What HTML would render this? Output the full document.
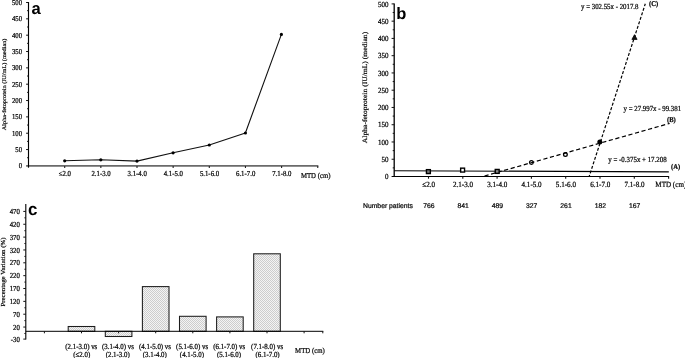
<!DOCTYPE html>
<html lang="en"><head><meta charset="utf-8"><title>Figure</title>
<style>html,body{margin:0;padding:0;background:#fff;}body{width:685px;height:358px;overflow:hidden;}svg{display:block;}text{stroke:#000;stroke-width:0.22px;text-rendering:geometricPrecision;}text.big{stroke:none;}</style>
</head><body>
<svg width="685" height="358" viewBox="0 0 685 358">
<defs><pattern id="dots" width="2" height="2" patternUnits="userSpaceOnUse"><rect width="2" height="2" fill="#f4f4f4"/><rect width="1" height="1" fill="#cdcdcd"/><rect x="1" y="1" width="1" height="1" fill="#cdcdcd"/></pattern></defs>
<rect width="685" height="358" fill="#fff"/>
<g id="panel-a">
<line x1="26.10" y1="165.90" x2="318.35" y2="165.90" stroke="#6a6a6a" stroke-width="1.9" />
<line x1="64.70" y1="165.90" x2="64.70" y2="168.10" stroke="#222" stroke-width="1.1" />
<line x1="100.85" y1="165.90" x2="100.85" y2="168.10" stroke="#222" stroke-width="1.1" />
<line x1="137.00" y1="165.90" x2="137.00" y2="168.10" stroke="#222" stroke-width="1.1" />
<line x1="173.15" y1="165.90" x2="173.15" y2="168.10" stroke="#222" stroke-width="1.1" />
<line x1="209.30" y1="165.90" x2="209.30" y2="168.10" stroke="#222" stroke-width="1.1" />
<line x1="245.45" y1="165.90" x2="245.45" y2="168.10" stroke="#222" stroke-width="1.1" />
<line x1="281.60" y1="165.90" x2="281.60" y2="168.10" stroke="#222" stroke-width="1.1" />
<line x1="317.75" y1="165.90" x2="317.75" y2="168.10" stroke="#222" stroke-width="1.1" />
<line x1="28.50" y1="2.00" x2="28.50" y2="167.70" stroke="#000" stroke-width="1.15" />
<line x1="26.10" y1="149.56" x2="28.50" y2="149.56" stroke="#111" stroke-width="1.0" />
<line x1="26.10" y1="133.22" x2="28.50" y2="133.22" stroke="#111" stroke-width="1.0" />
<line x1="26.10" y1="116.88" x2="28.50" y2="116.88" stroke="#111" stroke-width="1.0" />
<line x1="26.10" y1="100.54" x2="28.50" y2="100.54" stroke="#111" stroke-width="1.0" />
<line x1="26.10" y1="84.20" x2="28.50" y2="84.20" stroke="#111" stroke-width="1.0" />
<line x1="26.10" y1="67.86" x2="28.50" y2="67.86" stroke="#111" stroke-width="1.0" />
<line x1="26.10" y1="51.52" x2="28.50" y2="51.52" stroke="#111" stroke-width="1.0" />
<line x1="26.10" y1="35.18" x2="28.50" y2="35.18" stroke="#111" stroke-width="1.0" />
<line x1="26.10" y1="18.84" x2="28.50" y2="18.84" stroke="#111" stroke-width="1.0" />
<line x1="26.10" y1="2.50" x2="28.50" y2="2.50" stroke="#111" stroke-width="1.0" />
<line x1="27.10" y1="157.73" x2="28.50" y2="157.73" stroke="#111" stroke-width="1.0" />
<line x1="27.10" y1="141.39" x2="28.50" y2="141.39" stroke="#111" stroke-width="1.0" />
<line x1="27.10" y1="125.05" x2="28.50" y2="125.05" stroke="#111" stroke-width="1.0" />
<line x1="27.10" y1="108.71" x2="28.50" y2="108.71" stroke="#111" stroke-width="1.0" />
<line x1="27.10" y1="92.37" x2="28.50" y2="92.37" stroke="#111" stroke-width="1.0" />
<line x1="27.10" y1="76.03" x2="28.50" y2="76.03" stroke="#111" stroke-width="1.0" />
<line x1="27.10" y1="59.69" x2="28.50" y2="59.69" stroke="#111" stroke-width="1.0" />
<line x1="27.10" y1="43.35" x2="28.50" y2="43.35" stroke="#111" stroke-width="1.0" />
<line x1="27.10" y1="27.01" x2="28.50" y2="27.01" stroke="#111" stroke-width="1.0" />
<line x1="27.10" y1="10.67" x2="28.50" y2="10.67" stroke="#111" stroke-width="1.0" />
<text transform="translate(22.00 168.40) scale(1 1.12)" font-size="6.7" text-anchor="end" font-family='"Liberation Serif", serif' font-weight="normal" fill="#111" >0</text>
<text transform="translate(22.00 152.06) scale(1 1.12)" font-size="6.7" text-anchor="end" font-family='"Liberation Serif", serif' font-weight="normal" fill="#111" >50</text>
<text transform="translate(22.00 135.72) scale(1 1.12)" font-size="6.7" text-anchor="end" font-family='"Liberation Serif", serif' font-weight="normal" fill="#111" >100</text>
<text transform="translate(22.00 119.38) scale(1 1.12)" font-size="6.7" text-anchor="end" font-family='"Liberation Serif", serif' font-weight="normal" fill="#111" >150</text>
<text transform="translate(22.00 103.04) scale(1 1.12)" font-size="6.7" text-anchor="end" font-family='"Liberation Serif", serif' font-weight="normal" fill="#111" >200</text>
<text transform="translate(22.00 86.70) scale(1 1.12)" font-size="6.7" text-anchor="end" font-family='"Liberation Serif", serif' font-weight="normal" fill="#111" >250</text>
<text transform="translate(22.00 70.36) scale(1 1.12)" font-size="6.7" text-anchor="end" font-family='"Liberation Serif", serif' font-weight="normal" fill="#111" >300</text>
<text transform="translate(22.00 54.02) scale(1 1.12)" font-size="6.7" text-anchor="end" font-family='"Liberation Serif", serif' font-weight="normal" fill="#111" >350</text>
<text transform="translate(22.00 37.68) scale(1 1.12)" font-size="6.7" text-anchor="end" font-family='"Liberation Serif", serif' font-weight="normal" fill="#111" >400</text>
<text transform="translate(22.00 21.34) scale(1 1.12)" font-size="6.7" text-anchor="end" font-family='"Liberation Serif", serif' font-weight="normal" fill="#111" >450</text>
<text transform="translate(22.00 5.00) scale(1 1.12)" font-size="6.7" text-anchor="end" font-family='"Liberation Serif", serif' font-weight="normal" fill="#111" >500</text>
<text transform="translate(64.90 176.10) scale(1 1.12)" font-size="6.8" text-anchor="middle" font-family='"Liberation Serif", serif' font-weight="normal" fill="#111" >≤2.0</text>
<text transform="translate(101.05 176.10) scale(1 1.12)" font-size="6.8" text-anchor="middle" font-family='"Liberation Serif", serif' font-weight="normal" fill="#111" >2.1-3.0</text>
<text transform="translate(137.20 176.10) scale(1 1.12)" font-size="6.8" text-anchor="middle" font-family='"Liberation Serif", serif' font-weight="normal" fill="#111" >3.1-4.0</text>
<text transform="translate(173.35 176.10) scale(1 1.12)" font-size="6.8" text-anchor="middle" font-family='"Liberation Serif", serif' font-weight="normal" fill="#111" >4.1-5.0</text>
<text transform="translate(209.50 176.10) scale(1 1.12)" font-size="6.8" text-anchor="middle" font-family='"Liberation Serif", serif' font-weight="normal" fill="#111" >5.1-6.0</text>
<text transform="translate(245.65 176.10) scale(1 1.12)" font-size="6.8" text-anchor="middle" font-family='"Liberation Serif", serif' font-weight="normal" fill="#111" >6.1-7.0</text>
<text transform="translate(281.80 176.10) scale(1 1.12)" font-size="6.8" text-anchor="middle" font-family='"Liberation Serif", serif' font-weight="normal" fill="#111" >7.1-8.0</text>
<text transform="translate(315.70 177.80) scale(1 1.12)" font-size="6.8" text-anchor="middle" font-family='"Liberation Serif", serif' font-weight="normal" fill="#111" >MTD (cm)</text>
<text transform="translate(5.50 84.40) rotate(-90) scale(1 0.893)" font-size="6.25" text-anchor="middle" font-family='"Liberation Serif", serif' fill="#111" >Alpha-fetoprotein (IU/mL) (median)</text>
<polyline fill="none" stroke="#111" stroke-width="1.1" stroke-linejoin="round" points="64.7,160.8 100.8,159.8 137.0,161.1 173.1,152.8 209.3,145.0 245.4,133.0 281.4,34.4"/>
<circle cx="64.7" cy="160.8" r="1.6" fill="#000"/>
<circle cx="100.8" cy="159.8" r="1.6" fill="#000"/>
<circle cx="137.0" cy="161.1" r="1.6" fill="#000"/>
<circle cx="173.1" cy="152.8" r="1.6" fill="#000"/>
<circle cx="209.3" cy="145.0" r="1.6" fill="#000"/>
<circle cx="245.4" cy="133.0" r="1.6" fill="#000"/>
<circle cx="281.4" cy="34.4" r="1.6" fill="#000"/>
<text transform="translate(31.40 13.70) scale(1 1.0)" font-size="16.6" text-anchor="start" font-family='"Liberation Sans", sans-serif' font-weight="bold" fill="#000" class="big">a</text>
</g>
<g id="panel-b">
<line x1="391.60" y1="176.50" x2="669.10" y2="176.50" stroke="#000" stroke-width="1.2" />
<line x1="428.50" y1="176.50" x2="428.50" y2="178.70" stroke="#111" stroke-width="1.1" />
<line x1="462.80" y1="176.50" x2="462.80" y2="178.70" stroke="#111" stroke-width="1.1" />
<line x1="497.10" y1="176.50" x2="497.10" y2="178.70" stroke="#111" stroke-width="1.1" />
<line x1="531.40" y1="176.50" x2="531.40" y2="178.70" stroke="#111" stroke-width="1.1" />
<line x1="565.70" y1="176.50" x2="565.70" y2="178.70" stroke="#111" stroke-width="1.1" />
<line x1="600.00" y1="176.50" x2="600.00" y2="178.70" stroke="#111" stroke-width="1.1" />
<line x1="634.30" y1="176.50" x2="634.30" y2="178.70" stroke="#111" stroke-width="1.1" />
<line x1="668.60" y1="176.50" x2="668.60" y2="178.70" stroke="#111" stroke-width="1.1" />
<line x1="394.20" y1="3.40" x2="394.20" y2="177.00" stroke="#000" stroke-width="1.3" />
<line x1="391.60" y1="159.24" x2="394.20" y2="159.24" stroke="#111" stroke-width="1.0" />
<line x1="391.60" y1="141.98" x2="394.20" y2="141.98" stroke="#111" stroke-width="1.0" />
<line x1="391.60" y1="124.72" x2="394.20" y2="124.72" stroke="#111" stroke-width="1.0" />
<line x1="391.60" y1="107.46" x2="394.20" y2="107.46" stroke="#111" stroke-width="1.0" />
<line x1="391.60" y1="90.20" x2="394.20" y2="90.20" stroke="#111" stroke-width="1.0" />
<line x1="391.60" y1="72.94" x2="394.20" y2="72.94" stroke="#111" stroke-width="1.0" />
<line x1="391.60" y1="55.68" x2="394.20" y2="55.68" stroke="#111" stroke-width="1.0" />
<line x1="391.60" y1="38.42" x2="394.20" y2="38.42" stroke="#111" stroke-width="1.0" />
<line x1="391.60" y1="21.16" x2="394.20" y2="21.16" stroke="#111" stroke-width="1.0" />
<line x1="391.60" y1="3.90" x2="394.20" y2="3.90" stroke="#111" stroke-width="1.0" />
<line x1="392.70" y1="167.87" x2="394.20" y2="167.87" stroke="#111" stroke-width="1.0" />
<line x1="392.70" y1="150.61" x2="394.20" y2="150.61" stroke="#111" stroke-width="1.0" />
<line x1="392.70" y1="133.35" x2="394.20" y2="133.35" stroke="#111" stroke-width="1.0" />
<line x1="392.70" y1="116.09" x2="394.20" y2="116.09" stroke="#111" stroke-width="1.0" />
<line x1="392.70" y1="98.83" x2="394.20" y2="98.83" stroke="#111" stroke-width="1.0" />
<line x1="392.70" y1="81.57" x2="394.20" y2="81.57" stroke="#111" stroke-width="1.0" />
<line x1="392.70" y1="64.31" x2="394.20" y2="64.31" stroke="#111" stroke-width="1.0" />
<line x1="392.70" y1="47.05" x2="394.20" y2="47.05" stroke="#111" stroke-width="1.0" />
<line x1="392.70" y1="29.79" x2="394.20" y2="29.79" stroke="#111" stroke-width="1.0" />
<line x1="392.70" y1="12.53" x2="394.20" y2="12.53" stroke="#111" stroke-width="1.0" />
<text transform="translate(388.40 179.10) scale(1 1.12)" font-size="7.0" text-anchor="end" font-family='"Liberation Serif", serif' font-weight="normal" fill="#111" >0</text>
<text transform="translate(388.40 161.84) scale(1 1.12)" font-size="7.0" text-anchor="end" font-family='"Liberation Serif", serif' font-weight="normal" fill="#111" >50</text>
<text transform="translate(388.40 144.58) scale(1 1.12)" font-size="7.0" text-anchor="end" font-family='"Liberation Serif", serif' font-weight="normal" fill="#111" >100</text>
<text transform="translate(388.40 127.32) scale(1 1.12)" font-size="7.0" text-anchor="end" font-family='"Liberation Serif", serif' font-weight="normal" fill="#111" >150</text>
<text transform="translate(388.40 110.06) scale(1 1.12)" font-size="7.0" text-anchor="end" font-family='"Liberation Serif", serif' font-weight="normal" fill="#111" >200</text>
<text transform="translate(388.40 92.80) scale(1 1.12)" font-size="7.0" text-anchor="end" font-family='"Liberation Serif", serif' font-weight="normal" fill="#111" >250</text>
<text transform="translate(388.40 75.54) scale(1 1.12)" font-size="7.0" text-anchor="end" font-family='"Liberation Serif", serif' font-weight="normal" fill="#111" >300</text>
<text transform="translate(388.40 58.28) scale(1 1.12)" font-size="7.0" text-anchor="end" font-family='"Liberation Serif", serif' font-weight="normal" fill="#111" >350</text>
<text transform="translate(388.40 41.02) scale(1 1.12)" font-size="7.0" text-anchor="end" font-family='"Liberation Serif", serif' font-weight="normal" fill="#111" >400</text>
<text transform="translate(388.40 23.76) scale(1 1.12)" font-size="7.0" text-anchor="end" font-family='"Liberation Serif", serif' font-weight="normal" fill="#111" >450</text>
<text transform="translate(388.40 6.50) scale(1 1.12)" font-size="7.0" text-anchor="end" font-family='"Liberation Serif", serif' font-weight="normal" fill="#111" >500</text>
<text transform="translate(428.70 186.80) scale(1 1.12)" font-size="7.1" text-anchor="middle" font-family='"Liberation Serif", serif' font-weight="normal" fill="#111" >≤2.0</text>
<text transform="translate(463.00 186.80) scale(1 1.12)" font-size="7.1" text-anchor="middle" font-family='"Liberation Serif", serif' font-weight="normal" fill="#111" >2.1-3.0</text>
<text transform="translate(497.30 186.80) scale(1 1.12)" font-size="7.1" text-anchor="middle" font-family='"Liberation Serif", serif' font-weight="normal" fill="#111" >3.1-4.0</text>
<text transform="translate(531.60 186.80) scale(1 1.12)" font-size="7.1" text-anchor="middle" font-family='"Liberation Serif", serif' font-weight="normal" fill="#111" >4.1-5.0</text>
<text transform="translate(565.90 186.80) scale(1 1.12)" font-size="7.1" text-anchor="middle" font-family='"Liberation Serif", serif' font-weight="normal" fill="#111" >5.1-6.0</text>
<text transform="translate(600.20 186.80) scale(1 1.12)" font-size="7.1" text-anchor="middle" font-family='"Liberation Serif", serif' font-weight="normal" fill="#111" >6.1-7.0</text>
<text transform="translate(634.50 186.80) scale(1 1.12)" font-size="7.1" text-anchor="middle" font-family='"Liberation Serif", serif' font-weight="normal" fill="#111" >7.1-8.0</text>
<text transform="translate(670.80 187.20) scale(1 1.12)" font-size="7.1" text-anchor="middle" font-family='"Liberation Serif", serif' font-weight="normal" fill="#111" >MTD (cm)</text>
<text transform="translate(367.30 87.50) rotate(-90) scale(1 0.893)" font-size="7.6" text-anchor="middle" font-family='"Liberation Serif", serif' fill="#111" >Alpha-fetoprotein (IU/mL) (median)</text>
<line x1="394.20" y1="170.70" x2="668.80" y2="171.90" stroke="#000" stroke-width="1.15" />
<line x1="484.50" y1="176.00" x2="669.60" y2="123.40" stroke="#000" stroke-width="1.2" stroke-dasharray="4.2 2.6"/>
<line x1="589.10" y1="176.70" x2="645.30" y2="3.80" stroke="#000" stroke-width="1.2" stroke-dasharray="3 1.75" stroke-dashoffset="1.2"/>
<rect x="426.45" y="169.65" width="3.9" height="3.9" fill="#777" stroke="#000" stroke-width="1.4"/>
<rect x="460.65" y="168.15" width="3.9" height="3.9" fill="#fff" stroke="#000" stroke-width="1.4"/>
<rect x="495.25" y="169.45" width="3.9" height="3.9" fill="#888" stroke="#000" stroke-width="1.4"/>
<circle cx="531.4" cy="162.5" r="1.85" fill="none" stroke="#000" stroke-width="1.3"/>
<circle cx="565.4" cy="154.6" r="1.85" fill="none" stroke="#000" stroke-width="1.3"/>
<circle cx="599.8" cy="141.9" r="2.5" fill="#000"/>
<polygon points="634.5,34.7 637.1,39.4 631.9,39.4" fill="#111" stroke="#000" stroke-width="0.8" stroke-linejoin="miter"/>
<text transform="translate(581.00 9.40) scale(1 1.12)" font-size="6.85" text-anchor="start" font-family='"Liberation Serif", serif' font-weight="normal" fill="#111" >y = 302.55x - 2017.8</text>
<text transform="translate(649.00 5.80) scale(1 1.12)" font-size="6.6" text-anchor="start" font-family='"Liberation Serif", serif' font-weight="bold" fill="#111" >(C)</text>
<text transform="translate(623.60 110.50) scale(1 1.12)" font-size="6.85" text-anchor="start" font-family='"Liberation Serif", serif' font-weight="normal" fill="#111" >y = 27.997x - 99.381</text>
<text transform="translate(667.00 121.90) scale(1 1.12)" font-size="6.6" text-anchor="start" font-family='"Liberation Serif", serif' font-weight="bold" fill="#111" >(B)</text>
<text transform="translate(608.30 161.50) scale(1 1.12)" font-size="6.9" text-anchor="start" font-family='"Liberation Serif", serif' font-weight="normal" fill="#111" >y = -0.375x + 17.208</text>
<text transform="translate(671.00 169.10) scale(1 1.12)" font-size="6.6" text-anchor="start" font-family='"Liberation Serif", serif' font-weight="bold" fill="#111" >(A)</text>
<text transform="translate(363.00 207.80) scale(1 1.0)" font-size="6.8" text-anchor="start" font-family='"Liberation Sans", sans-serif' font-weight="normal" fill="#111" >Number patients</text>
<text transform="translate(428.80 207.90) scale(1 1.0)" font-size="6.8" text-anchor="middle" font-family='"Liberation Sans", sans-serif' font-weight="normal" fill="#111" >766</text>
<text transform="translate(463.10 207.90) scale(1 1.0)" font-size="6.8" text-anchor="middle" font-family='"Liberation Sans", sans-serif' font-weight="normal" fill="#111" >841</text>
<text transform="translate(497.40 207.90) scale(1 1.0)" font-size="6.8" text-anchor="middle" font-family='"Liberation Sans", sans-serif' font-weight="normal" fill="#111" >489</text>
<text transform="translate(531.70 207.90) scale(1 1.0)" font-size="6.8" text-anchor="middle" font-family='"Liberation Sans", sans-serif' font-weight="normal" fill="#111" >327</text>
<text transform="translate(566.00 207.90) scale(1 1.0)" font-size="6.8" text-anchor="middle" font-family='"Liberation Sans", sans-serif' font-weight="normal" fill="#111" >261</text>
<text transform="translate(600.30 207.90) scale(1 1.0)" font-size="6.8" text-anchor="middle" font-family='"Liberation Sans", sans-serif' font-weight="normal" fill="#111" >182</text>
<text transform="translate(634.60 207.90) scale(1 1.0)" font-size="6.8" text-anchor="middle" font-family='"Liberation Sans", sans-serif' font-weight="normal" fill="#111" >167</text>
<text transform="translate(396.30 19.00) scale(1 1.0)" font-size="16.5" text-anchor="start" font-family='"Liberation Sans", sans-serif' font-weight="bold" fill="#000" class="big">b</text>
</g>
<g id="panel-c">
<rect x="68.20" y="326.50" width="26.6" height="4.80" fill="url(#dots)" stroke="#1c1c1c" stroke-width="1.05"/>
<rect x="105.30" y="331.30" width="26.6" height="5.20" fill="url(#dots)" stroke="#1c1c1c" stroke-width="1.05"/>
<rect x="142.40" y="286.60" width="26.6" height="44.70" fill="url(#dots)" stroke="#1c1c1c" stroke-width="1.05"/>
<rect x="179.50" y="316.30" width="26.6" height="15.00" fill="url(#dots)" stroke="#1c1c1c" stroke-width="1.05"/>
<rect x="216.60" y="316.90" width="26.6" height="14.40" fill="url(#dots)" stroke="#1c1c1c" stroke-width="1.05"/>
<rect x="253.70" y="253.80" width="26.6" height="77.50" fill="url(#dots)" stroke="#1c1c1c" stroke-width="1.05"/>
<line x1="25.80" y1="331.30" x2="323.30" y2="331.30" stroke="#000" stroke-width="1.0" />
<line x1="44.40" y1="331.30" x2="44.40" y2="333.30" stroke="#111" stroke-width="1.0" />
<line x1="81.50" y1="331.30" x2="81.50" y2="333.30" stroke="#111" stroke-width="1.0" />
<line x1="118.60" y1="331.30" x2="118.60" y2="333.30" stroke="#111" stroke-width="1.0" />
<line x1="155.70" y1="331.30" x2="155.70" y2="333.30" stroke="#111" stroke-width="1.0" />
<line x1="192.80" y1="331.30" x2="192.80" y2="333.30" stroke="#111" stroke-width="1.0" />
<line x1="229.90" y1="331.30" x2="229.90" y2="333.30" stroke="#111" stroke-width="1.0" />
<line x1="267.00" y1="331.30" x2="267.00" y2="333.30" stroke="#111" stroke-width="1.0" />
<line x1="304.10" y1="331.30" x2="304.10" y2="333.30" stroke="#111" stroke-width="1.0" />
<line x1="322.80" y1="331.30" x2="322.80" y2="333.30" stroke="#111" stroke-width="1.0" />
<line x1="25.80" y1="204.00" x2="25.80" y2="339.60" stroke="#000" stroke-width="1.1" />
<line x1="23.30" y1="339.10" x2="25.80" y2="339.10" stroke="#111" stroke-width="1.0" />
<text transform="translate(19.90 341.70) scale(1 1.12)" font-size="6.8" text-anchor="end" font-family='"Liberation Serif", serif' font-weight="normal" fill="#111" >-30</text>
<line x1="23.30" y1="327.06" x2="25.80" y2="327.06" stroke="#111" stroke-width="1.0" />
<text transform="translate(19.90 329.66) scale(1 1.12)" font-size="6.8" text-anchor="end" font-family='"Liberation Serif", serif' font-weight="normal" fill="#111" >20</text>
<line x1="23.30" y1="314.21" x2="25.80" y2="314.21" stroke="#111" stroke-width="1.0" />
<text transform="translate(19.90 316.81) scale(1 1.12)" font-size="6.8" text-anchor="end" font-family='"Liberation Serif", serif' font-weight="normal" fill="#111" >70</text>
<line x1="23.30" y1="301.36" x2="25.80" y2="301.36" stroke="#111" stroke-width="1.0" />
<text transform="translate(19.90 303.96) scale(1 1.12)" font-size="6.8" text-anchor="end" font-family='"Liberation Serif", serif' font-weight="normal" fill="#111" >120</text>
<line x1="23.30" y1="288.51" x2="25.80" y2="288.51" stroke="#111" stroke-width="1.0" />
<text transform="translate(19.90 291.11) scale(1 1.12)" font-size="6.8" text-anchor="end" font-family='"Liberation Serif", serif' font-weight="normal" fill="#111" >170</text>
<line x1="23.30" y1="275.66" x2="25.80" y2="275.66" stroke="#111" stroke-width="1.0" />
<text transform="translate(19.90 278.26) scale(1 1.12)" font-size="6.8" text-anchor="end" font-family='"Liberation Serif", serif' font-weight="normal" fill="#111" >220</text>
<line x1="23.30" y1="262.81" x2="25.80" y2="262.81" stroke="#111" stroke-width="1.0" />
<text transform="translate(19.90 265.41) scale(1 1.12)" font-size="6.8" text-anchor="end" font-family='"Liberation Serif", serif' font-weight="normal" fill="#111" >270</text>
<line x1="23.30" y1="249.96" x2="25.80" y2="249.96" stroke="#111" stroke-width="1.0" />
<text transform="translate(19.90 252.56) scale(1 1.12)" font-size="6.8" text-anchor="end" font-family='"Liberation Serif", serif' font-weight="normal" fill="#111" >320</text>
<line x1="23.30" y1="237.11" x2="25.80" y2="237.11" stroke="#111" stroke-width="1.0" />
<text transform="translate(19.90 239.71) scale(1 1.12)" font-size="6.8" text-anchor="end" font-family='"Liberation Serif", serif' font-weight="normal" fill="#111" >370</text>
<line x1="23.30" y1="224.26" x2="25.80" y2="224.26" stroke="#111" stroke-width="1.0" />
<text transform="translate(19.90 226.86) scale(1 1.12)" font-size="6.8" text-anchor="end" font-family='"Liberation Serif", serif' font-weight="normal" fill="#111" >420</text>
<line x1="23.30" y1="211.41" x2="25.80" y2="211.41" stroke="#111" stroke-width="1.0" />
<text transform="translate(19.90 214.01) scale(1 1.12)" font-size="6.8" text-anchor="end" font-family='"Liberation Serif", serif' font-weight="normal" fill="#111" >470</text>
<line x1="24.40" y1="333.49" x2="25.80" y2="333.49" stroke="#111" stroke-width="1.0" />
<line x1="24.40" y1="320.63" x2="25.80" y2="320.63" stroke="#111" stroke-width="1.0" />
<line x1="24.40" y1="307.78" x2="25.80" y2="307.78" stroke="#111" stroke-width="1.0" />
<line x1="24.40" y1="294.94" x2="25.80" y2="294.94" stroke="#111" stroke-width="1.0" />
<line x1="24.40" y1="282.08" x2="25.80" y2="282.08" stroke="#111" stroke-width="1.0" />
<line x1="24.40" y1="269.24" x2="25.80" y2="269.24" stroke="#111" stroke-width="1.0" />
<line x1="24.40" y1="256.38" x2="25.80" y2="256.38" stroke="#111" stroke-width="1.0" />
<line x1="24.40" y1="243.53" x2="25.80" y2="243.53" stroke="#111" stroke-width="1.0" />
<line x1="24.40" y1="230.69" x2="25.80" y2="230.69" stroke="#111" stroke-width="1.0" />
<line x1="24.40" y1="217.83" x2="25.80" y2="217.83" stroke="#111" stroke-width="1.0" />
<text transform="translate(4.90 272.00) rotate(-90) scale(1 0.893)" font-size="6.9" text-anchor="middle" font-family='"Liberation Serif", serif' fill="#111" >Precentage Variation (%)</text>
<text transform="translate(81.30 348.50) scale(1 1.12)" font-size="6.9" text-anchor="middle" font-family='"Liberation Serif", serif' font-weight="normal" fill="#111" >(2.1-3.0) vs</text>
<text transform="translate(81.70 356.50) scale(1 1.12)" font-size="6.9" text-anchor="middle" font-family='"Liberation Serif", serif' font-weight="normal" fill="#111" >(≤2.0)</text>
<text transform="translate(117.90 348.50) scale(1 1.12)" font-size="6.9" text-anchor="middle" font-family='"Liberation Serif", serif' font-weight="normal" fill="#111" >(3.1-4.0) vs</text>
<text transform="translate(117.70 356.50) scale(1 1.12)" font-size="6.9" text-anchor="middle" font-family='"Liberation Serif", serif' font-weight="normal" fill="#111" >(2.1-3.0)</text>
<text transform="translate(155.00 348.50) scale(1 1.12)" font-size="6.9" text-anchor="middle" font-family='"Liberation Serif", serif' font-weight="normal" fill="#111" >(4.1-5.0) vs</text>
<text transform="translate(154.80 356.50) scale(1 1.12)" font-size="6.9" text-anchor="middle" font-family='"Liberation Serif", serif' font-weight="normal" fill="#111" >(3.1-4.0)</text>
<text transform="translate(192.10 348.50) scale(1 1.12)" font-size="6.9" text-anchor="middle" font-family='"Liberation Serif", serif' font-weight="normal" fill="#111" >(5.1-6.0) vs</text>
<text transform="translate(191.90 356.50) scale(1 1.12)" font-size="6.9" text-anchor="middle" font-family='"Liberation Serif", serif' font-weight="normal" fill="#111" >(4.1-5.0)</text>
<text transform="translate(229.20 348.50) scale(1 1.12)" font-size="6.9" text-anchor="middle" font-family='"Liberation Serif", serif' font-weight="normal" fill="#111" >(6.1-7.0) vs</text>
<text transform="translate(229.00 356.50) scale(1 1.12)" font-size="6.9" text-anchor="middle" font-family='"Liberation Serif", serif' font-weight="normal" fill="#111" >(5.1-6.0)</text>
<text transform="translate(267.10 348.50) scale(1 1.12)" font-size="6.9" text-anchor="middle" font-family='"Liberation Serif", serif' font-weight="normal" fill="#111" >(7.1-8.0) vs</text>
<text transform="translate(267.60 356.50) scale(1 1.12)" font-size="6.9" text-anchor="middle" font-family='"Liberation Serif", serif' font-weight="normal" fill="#111" >(6.1-7.0)</text>
<text transform="translate(309.90 353.40) scale(1 1.12)" font-size="6.8" text-anchor="middle" font-family='"Liberation Serif", serif' font-weight="normal" fill="#111" >MTD (cm)</text>
<text transform="translate(28.10 215.00) scale(1 1.0)" font-size="17.0" text-anchor="start" font-family='"Liberation Sans", sans-serif' font-weight="bold" fill="#000" class="big">c</text>
</g>
</svg>
</body></html>
